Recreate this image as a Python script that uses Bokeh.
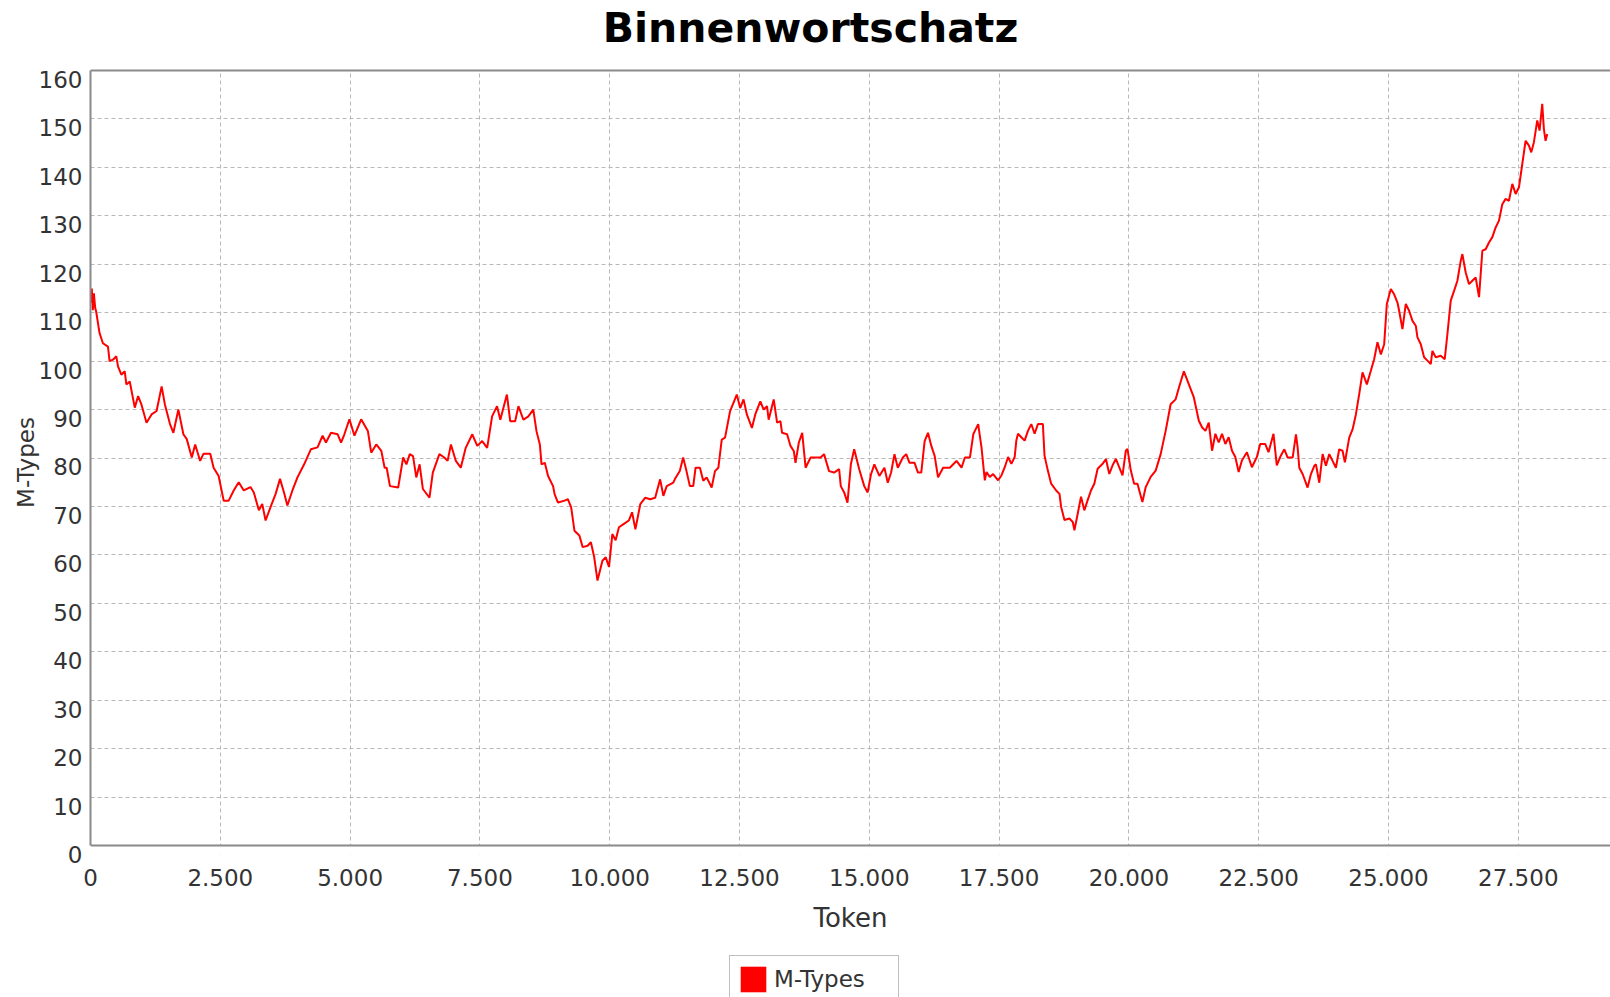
from bokeh.plotting import figure
from bokeh.layouts import column
from bokeh.models import (ColumnDataSource, Range1d, LinearAxis, FixedTicker,
                          Legend, LegendItem, Label, BoxAnnotation, Span)
from bokeh.embed import file_html
from bokeh.resources import INLINE

title_text = "Binnenwortschatz"
x_label = "Token"
y_label = "M-Types"
series_name = "M-Types"

tokens = [0, 25, 45, 65, 90, 110, 174, 239, 336, 368, 433, 497, 530, 594, 659, 691, 756, 853, 917, 982,
          1079, 1176, 1273, 1370, 1434, 1531, 1596, 1693, 1789, 1854, 1951, 2016, 2112, 2177, 2306, 2371,
          2468, 2565, 2662, 2758, 2855, 2952, 3081, 3146, 3243, 3308, 3372, 3469, 3566, 3650, 3727, 3792,
          3889, 3986, 4115, 4244, 4373, 4470, 4535, 4632, 4761, 4826, 4890, 4987, 5084, 5213, 5342, 5407,
          5504, 5601, 5665,
          5704, 5768, 5926, 6022, 6085, 6149, 6212, 6275, 6339, 6402, 6529, 6593, 6720, 6815, 6878, 6942,
          7037, 7132, 7227, 7354, 7449, 7544, 7640, 7735, 7830, 7893, 8020, 8084, 8179, 8242, 8338, 8433,
          8528, 8591, 8655, 8687, 8750, 8813, 8909, 8940, 9004, 9131, 9194, 9258, 9321, 9416, 9480, 9575,
          9638, 9702, 9765, 9860, 9924, 9987, 10051, 10114, 10178, 10273, 10368, 10431, 10495, 10590, 10685,
          10780, 10876, 10971, 11034, 11098, 11225,
          11253, 11350, 11415, 11479, 11544, 11609, 11654, 11738, 11802, 11867, 11964, 12028, 12093, 12158,
          12222, 12319, 12448, 12513, 12578, 12642, 12739, 12804, 12901, 12965, 13030, 13062, 13159, 13224,
          13288, 13320, 13417, 13482, 13547, 13579, 13643, 13708, 13773, 13870, 13966, 14063, 14128, 14225,
          14322, 14419, 14451, 14516, 14580, 14645, 14709, 14806, 14903, 14968, 15032, 15097, 15194, 15291,
          15356, 15420, 15485, 15549, 15646, 15711, 15775, 15872, 15937, 16001, 16066, 16131, 16195, 16260,
          16324, 16421, 16550, 16680, 16777, 16841, 16938, 17003,
          17034, 17097, 17161, 17225, 17257, 17321, 17385, 17481, 17545, 17609, 17673, 17736, 17800, 17832,
          17864, 17928, 17992, 18056, 18120, 18184, 18248, 18343, 18375, 18439, 18503, 18599, 18663, 18695,
          18759, 18855, 18919, 18951, 19014, 19078, 19142, 19206, 19270, 19334, 19398, 19494, 19558, 19622,
          19686, 19749, 19813, 19877, 19941, 19973, 20037, 20101, 20165, 20260, 20324, 20420, 20516, 20612,
          20708, 20804, 20899, 20963, 21059, 21155, 21251, 21347, 21411, 21475, 21538, 21602, 21666, 21730,
          21794, 21858, 21922, 21986, 22050, 22114, 22177, 22273, 22369, 22465, 22529, 22625, 22689, 22785,
          22849, 22913,
          22994, 23058, 23154, 23218, 23250, 23282, 23346, 23442, 23506, 23571, 23603, 23667, 23731, 23795,
          23859, 23923, 23987, 24051, 24115, 24160, 24244, 24308, 24372, 24436, 24500, 24583, 24660, 24724,
          24788, 24853, 24917, 24968, 25045, 25109, 25173, 25205, 25269, 25333, 25397, 25462, 25526, 25558,
          25622, 25686, 25750, 25814, 25846, 25910, 26006, 26083, 26135, 26199, 26263, 26327, 26391, 26423,
          26487, 26551, 26615, 26679, 26744, 26808, 26872, 26936, 27000, 27064, 27128, 27192, 27256, 27320,
          27385, 27449, 27513, 27577, 27641, 27705, 27750, 27801, 27865, 27910, 27961, 27993, 28025, 28058]

m_types = [112, 115, 110.5, 114, 111, 110.2, 105.8, 103.7, 103, 100, 100.3, 101, 98.9, 97.2, 97.9, 95.2, 95.8,
           90.4, 92.8, 91, 87.3, 89, 89.7, 94.8, 91, 87, 85.2, 90, 84.9, 83.9, 80.1, 82.8, 79.4, 80.9, 80.9,
           78, 76.3, 71.2, 71.2, 73.3, 75, 73.3, 74, 72.9, 69.2, 70.5, 67.1, 69.9, 72.6, 75.7, 72.9, 70.2,
           73.3, 76, 78.7, 81.8, 82.2, 84.6, 83.2, 85.2, 84.9, 83.2, 84.9, 88, 84.6, 88, 85.6, 81.1, 82.8,
           81.5, 78,
           78, 74.2, 73.9, 80.1, 78.7, 80.8, 80.4, 76, 78.7, 73.6, 71.8, 77, 80.8, 80.1, 79.4, 82.8, 79.4,
           78, 82.1, 84.9, 82.5, 83.5, 82.1, 88.6, 90.7, 87.9, 93.1, 87.6, 87.6, 90.7, 87.9, 88.6, 90, 85.5,
           82.8, 78.7, 79, 76.3, 74.2, 72.5, 70.8, 71.2, 71.5, 69.8, 65, 64, 61.6, 61.9, 62.6, 59.5, 54.7,
           58.8, 59.5, 57.5, 64.3, 63, 65.7, 66.4, 67.1, 68.8, 65.3, 70.5, 71.8, 71.5, 71.8, 75.6, 72.2, 74.2,
           74.9,
           75.6, 77.3, 80.1, 77.3, 74.2, 74.2, 78, 78, 75.3, 76, 73.9, 77.3, 78, 83.8, 84.2, 89.7, 93.1,
           90.3, 92.1, 89, 86.2, 89, 91.7, 90, 90.7, 87.9, 92.1, 87.3, 87.6, 85.2, 84.9, 82.5, 81.4, 79,
           83.2, 85.2, 78, 80.1, 80.1, 80.1, 80.8, 77.3, 77, 77.7, 74.2, 72.9, 70.8, 78.7, 81.8, 77.7, 74.2,
           72.9, 76.6, 78.7, 76.3, 78, 74.9, 77, 80.8, 78, 80.1, 80.8, 79, 79, 77, 77, 83.5, 85.2, 82.5,
           80.4, 76, 78, 78, 79.4, 78, 80.1, 80.1, 84.9,
           85.6, 87, 82.2, 75.4, 77.1, 76.1, 76.7, 75.4, 76.4, 78.1, 80.2, 78.8, 80.2, 83.6, 85, 84.3, 83.6,
           85.6, 87, 85, 87, 87, 80.5, 77.4, 74.7, 73.3, 72.6, 69.9, 67.2, 67.5, 66.8, 65.1, 68.5, 72, 69.2,
           71.3, 73.3, 74.7, 77.8, 78.8, 79.8, 76.7, 78.5, 79.8, 78.1, 76.4, 81.5, 81.9, 77.4, 74.7, 74.7,
           70.9, 74, 76.1, 77.4, 80.8, 85.6, 91.1, 92.1, 94.5, 97.9, 95.2, 92.5, 87.7, 86.3, 85.6, 87.3,
           81.5, 85, 83.2, 85, 82.9, 84.3, 81.5, 80.2, 77.1, 79.5, 81.2, 78.1, 80.2, 82.9, 82.9, 81.2, 85,
           78.5, 80.2,
           81.8, 80.1, 80.1, 84.9, 82.2, 78, 76.7, 73.9, 76.7, 78.4, 78.7, 74.9, 80.8, 78.4, 80.8, 79.4, 78,
           81.8, 81.5, 79.1, 84.2, 85.9, 89, 93.2, 97.7, 95.2, 98, 100.4, 103.9, 101.4, 103.5, 111.8, 114.9,
           113.8, 112.1, 110.4, 106.6, 111.8, 110.4, 108.3, 107.3, 104.9, 103.5, 100.8, 100.1, 99.4, 102.1,
           100.8, 101.1, 100.4, 105.6, 112.5, 114.5, 116.6, 120.7, 122.1, 118.3, 115.9, 116.6, 117.3, 113.2,
           122.8, 123.1, 124.5, 125.6, 127.6, 129, 132.4, 133.5, 133.1, 136.6, 134.5, 135.9, 140.7, 145.5,
           144.5, 143.1, 145.2, 149.7, 147.6, 153.1, 147.9, 145.5, 146.9]

x_ticks = [0, 2500, 5000, 7500, 10000, 12500, 15000, 17500, 20000, 22500, 25000, 27500]
x_tick_labels = ["0", "2.500", "5.000", "7.500", "10.000", "12.500", "15.000", "17.500",
                 "20.000", "22.500", "25.000", "27.500"]
y_ticks = [0, 10, 20, 30, 40, 50, 60, 70, 80, 90, 100, 110, 120, 130, 140, 150, 160]

FONT = "DejaVu Sans"
AXIS_GRAY = "#8a8a8a"
GRID_GRAY = "#b8b8b8"
TEXT_GRAY = "#333333"
Y_MIN, Y_MAX = 0, 160
X_MAX = 29276
LABEL_SHIFT = 1.85   # y tick labels sit slightly below their grid lines, as in the original
LEFT = 90

# ---------------- title strip ----------------
ts = figure(width=1610, height=68, output_backend="svg", toolbar_location=None,
            x_range=Range1d(0, 1), y_range=Range1d(0, 1), x_axis_type=None, y_axis_type=None,
            min_border_left=LEFT, min_border_right=0, min_border_top=0, min_border_bottom=0,
            background_fill_color="white", border_fill_color="white", outline_line_color=None)
ts.xgrid.visible = False
ts.ygrid.visible = False
ts.add_layout(Label(x=720, y=41, x_units="screen", y_units="screen", text=title_text,
                    text_align="center", text_baseline="alphabetic", text_font=FONT,
                    text_font_style="bold", text_font_size="41px", text_color="#000000"))

# ---------------- main chart ----------------
src = ColumnDataSource(data=dict(t=tokens, v=m_types))

p = figure(width=1610, height=882, output_backend="svg", toolbar_location=None,
           x_range=Range1d(0, X_MAX), y_range=Range1d(Y_MIN - LABEL_SHIFT, Y_MAX),
           min_border_left=LEFT, min_border_top=2, min_border_bottom=96, min_border_right=0,
           background_fill_color="white", border_fill_color="white", outline_line_color=None)

# grid
p.xgrid[0].grid_line_color = GRID_GRAY
p.xgrid[0].grid_line_dash = "4 3"
p.ygrid[0].ticker = FixedTicker(ticks=y_ticks)
p.ygrid[0].grid_line_color = GRID_GRAY
p.ygrid[0].grid_line_dash = "4 3"

# strip below y=0 kept blank (grid lines end at the x axis)
p.add_layout(BoxAnnotation(bottom=Y_MIN - LABEL_SHIFT, top=Y_MIN, fill_color="white", fill_alpha=1.0,
                           line_color=None, level="underlay"))
# x axis line at y = 0
p.add_layout(Span(location=Y_MIN, dimension="width", line_color=AXIS_GRAY, line_width=2))

xa = p.xaxis[0]
ya = p.yaxis[0]
xa.ticker = FixedTicker(ticks=x_ticks)
xa.major_label_overrides = {t: s for t, s in zip(x_ticks, x_tick_labels)}
ya.ticker = FixedTicker(ticks=[])
ya.bounds = (Y_MIN, Y_MAX)
for ax in (xa, ya):
    ax.major_tick_in = 0
    ax.major_tick_out = 0
    ax.minor_tick_in = 0
    ax.minor_tick_out = 0
xa.axis_line_color = None
ya.axis_line_color = AXIS_GRAY
ya.axis_line_width = 2
ya.major_label_standoff = 0

xa.major_label_text_font = FONT
xa.major_label_text_font_size = "23px"
xa.major_label_text_color = TEXT_GRAY
xa.major_label_standoff = 14
xa.axis_label = x_label
xa.axis_label_text_font = FONT
xa.axis_label_text_font_style = "normal"
xa.axis_label_text_font_size = "26px"
xa.axis_label_text_color = TEXT_GRAY
xa.axis_label_standoff = 14

# y labels axis (shifted a little downward)
p.extra_y_ranges = {"lbl": Range1d(Y_MIN, Y_MAX + LABEL_SHIFT)}
lbl_ax = LinearAxis(y_range_name="lbl", ticker=FixedTicker(ticks=y_ticks),
                    axis_line_color=None, major_tick_in=0, major_tick_out=0,
                    minor_tick_in=0, minor_tick_out=0, major_label_standoff=8,
                    major_label_text_font=FONT, major_label_text_font_size="23px",
                    major_label_text_color=TEXT_GRAY,
                    axis_label=y_label, axis_label_text_font=FONT, axis_label_text_font_style="normal",
                    axis_label_text_font_size="23px", axis_label_text_color=TEXT_GRAY,
                    axis_label_standoff=-3)
p.add_layout(lbl_ax, "left")

# top border of the plot area
top_ax = LinearAxis(ticker=FixedTicker(ticks=[]), axis_line_color=AXIS_GRAY, axis_line_width=2,
                    major_tick_in=0, major_tick_out=0, minor_tick_in=0, minor_tick_out=0,
                    major_label_standoff=0)
p.add_layout(top_ax, "above")

p.line("t", "v", source=src, line_color="#ff0000", line_width=2)

# ---------------- legend strip ----------------
lg = figure(width=1610, height=47, output_backend="svg", toolbar_location=None,
            x_range=Range1d(0, 1), y_range=Range1d(0, 1), x_axis_type=None, y_axis_type=None,
            min_border_left=LEFT, min_border_right=0, min_border_top=0, min_border_bottom=0,
            background_fill_color="white", border_fill_color="white", outline_line_color=None)
lg.xgrid.visible = False
lg.ygrid.visible = False
# swatch renderer: last data point, lying outside this strip's view; only its legend entry shows
swatch = lg.quad(left=[tokens[-1]], right=[tokens[-1]], top=[m_types[-1]], bottom=[m_types[-1]],
                 fill_color="#ff0000", line_color=None)
legend = Legend(items=[LegendItem(label=series_name, renderers=[swatch])],
                location=(639, -6), orientation="horizontal", margin=0, padding=7,
                glyph_width=32, glyph_height=32, label_width=117, label_standoff=5, spacing=0,
                border_line_color="#808080", border_line_width=1,
                background_fill_color="white", background_fill_alpha=1.0,
                label_text_font=FONT, label_text_font_size="23px", label_text_color=TEXT_GRAY)
lg.add_layout(legend, "center")

layout = column(ts, p, lg, spacing=0)

open("out.html", "w").write(file_html(layout, INLINE))
